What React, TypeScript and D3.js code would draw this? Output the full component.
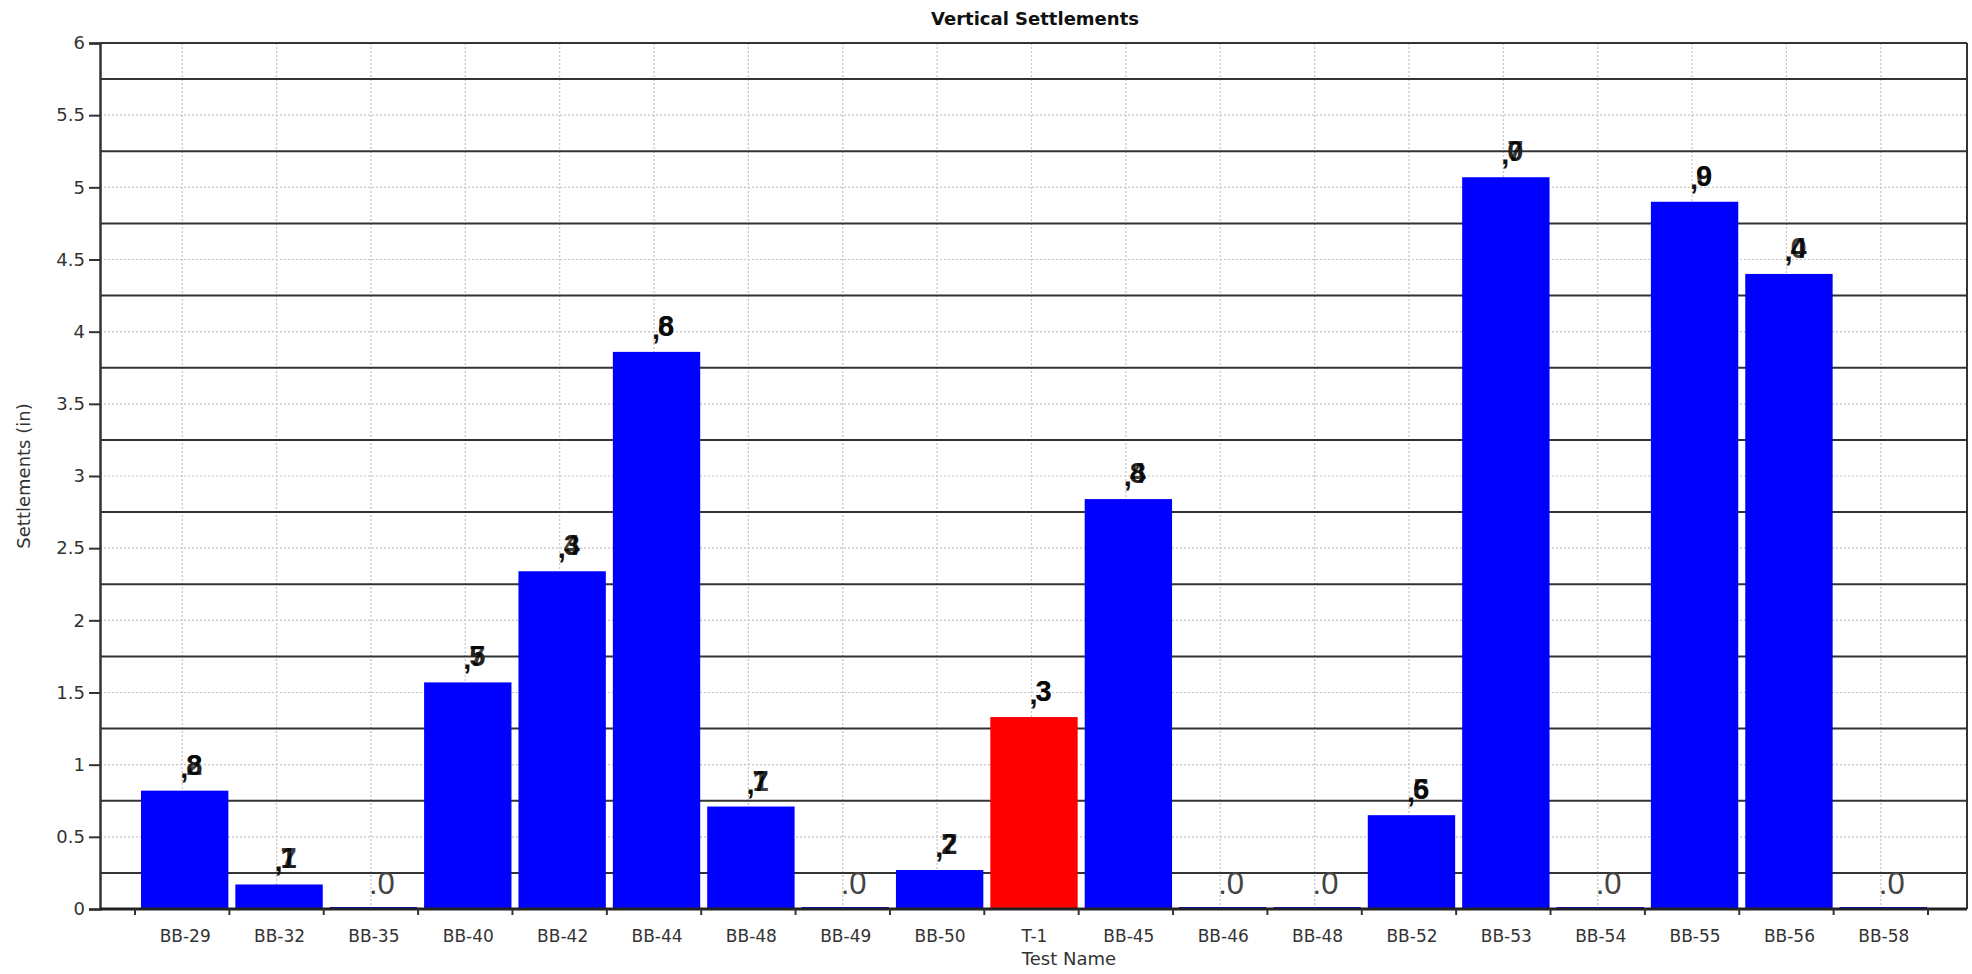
import React, { useRef, useEffect } from 'react'
import * as d3 from 'd3'

const categories = ['BB-29', 'BB-32', 'BB-35', 'BB-40', 'BB-42', 'BB-44', 'BB-48', 'BB-49', 'BB-50', 'T-1', 'BB-45', 'BB-46', 'BB-48', 'BB-52', 'BB-53', 'BB-54', 'BB-55', 'BB-56', 'BB-58']
const settlements = [0.82, 0.17, 0, 1.57, 2.34, 3.86, 0.71, 0, 0.27, 1.33, 2.84, 0, 0, 0.65, 5.07, 0, 4.9, 4.4, 0]
const highlighted = ['T-1']
const yTicks = [0, 0.5, 1, 1.5, 2, 2.5, 3, 3.5, 4, 4.5, 5, 5.5, 6]
const solidLines = [0.25, 0.75, 1.25, 1.75, 2.25, 2.75, 3.25, 3.75, 4.25, 4.75, 5.25, 5.75, 6]

const W = 1972
const H = 974
const FONT = '"DejaVu Sans", Verdana, sans-serif'
const LABEL_FONT = '"Liberation Sans", Arial, sans-serif'

export default function App() {
  const svgRef = useRef<SVGSVGElement>(null)

  useEffect(() => {
    document.body.style.margin = '0'
    if (!svgRef.current) return
    const svg = d3.select(svgRef.current)
    svg.selectAll('*').remove()

    const plot = { left: 100, right: 1967, top: 43, bottom: 909 }
    const idx = categories.map((_, i) => i)

    const x = d3.scaleBand<number>()
      .domain(idx)
      .range([135, 1928])
      .padding(0)
    const y = d3.scaleLinear().domain([0, 6]).range([plot.bottom, plot.top])

    svg.append('rect').attr('width', W).attr('height', H).attr('fill', '#fff')

    // dotted grid
    svg.append('g').selectAll('line')
      .data(yTicks.filter(t => t !== 6))
      .join('line')
      .attr('x1', plot.left).attr('x2', plot.right)
      .attr('y1', d => y(d)).attr('y2', d => y(d))
      .attr('stroke', '#c4c4c4').attr('stroke-width', 1.2).attr('stroke-dasharray', '2,2')

    svg.append('g').selectAll('line')
      .data(idx)
      .join('line')
      .attr('x1', d => x(d)! + x.bandwidth() / 2).attr('x2', d => x(d)! + x.bandwidth() / 2)
      .attr('y1', plot.top).attr('y2', plot.bottom)
      .attr('stroke', '#c4c4c4').attr('stroke-width', 1.2).attr('stroke-dasharray', '2,2')

    // solid lines
    svg.append('g').selectAll('line')
      .data(solidLines)
      .join('line')
      .attr('x1', plot.left).attr('x2', plot.right)
      .attr('y1', d => y(d)).attr('y2', d => y(d))
      .attr('stroke', '#333').attr('stroke-width', 2)

    svg.append('line')
      .attr('x1', plot.right).attr('x2', plot.right)
      .attr('y1', plot.top).attr('y2', plot.bottom)
      .attr('stroke', '#333').attr('stroke-width', 2)

    // bars
    svg.append('g').selectAll('rect')
      .data(settlements)
      .join('rect')
      .attr('x', (_, i) => x(i)! + 6)
      .attr('width', x.bandwidth() - 7)
      .attr('y', d => Math.min(y(d), plot.bottom - 2))
      .attr('height', d => Math.max(plot.bottom - y(d), 2))
      .attr('fill', (_, i) => highlighted.includes(categories[i]) ? '#ff0000' : '#0000ff')

    // axes
    const yAxis = svg.append('g')
      .attr('transform', `translate(${plot.left},0)`)
      .call(d3.axisLeft(y).tickValues(yTicks).tickSize(11).tickPadding(4).tickFormat(d => d3.format('~g')(d as number)))
    yAxis.select('.domain').attr('stroke', '#333').attr('stroke-width', 2.5)
    yAxis.selectAll('.tick line').attr('stroke', '#333').attr('stroke-width', 2)
    yAxis.selectAll('text').attr('font-family', FONT).attr('font-size', 18).attr('fill', '#333')

    svg.append('line')
      .attr('x1', plot.left).attr('x2', plot.right)
      .attr('y1', plot.bottom).attr('y2', plot.bottom)
      .attr('stroke', '#222').attr('stroke-width', 3)

    svg.append('g').selectAll('line')
      .data([...idx, categories.length])
      .join('line')
      .attr('x1', d => x.range()[0] + d * x.step()).attr('x2', d => x.range()[0] + d * x.step())
      .attr('y1', plot.bottom).attr('y2', plot.bottom + 6)
      .attr('stroke', '#333').attr('stroke-width', 2)

    svg.append('g').selectAll('text')
      .data(categories)
      .join('text')
      .attr('x', (_, i) => x(i)! + x.bandwidth() / 2 + 3)
      .attr('y', 942)
      .attr('text-anchor', 'middle')
      .attr('font-family', FONT).attr('font-size', 17).attr('fill', '#333')
      .text(d => d)

    // value labels
    const labels = svg.append('g')
    settlements.forEach((v, i) => {
      const cx = x(i)! + x.bandwidth() / 2 + 3
      if (v === 0) {
        labels.append('text')
          .attr('x', cx - 5).attr('y', 894)
          .attr('font-family', LABEL_FONT).attr('font-size', 31)
          .attr('fill', '#444')
          .text('.0')
        return
      }
      const ty = y(v) - 16
      const d1 = String(Math.floor(v * 10) % 10)
      const d2 = String(Math.round(v * 100) % 10)
      labels.append('text')
        .attr('x', cx - 5).attr('y', ty + 3)
        .attr('font-family', LABEL_FONT).attr('font-size', 29).attr('font-weight', 'bold')
        .attr('fill', '#111')
        .text(',')
      ;[d1, d2].forEach((d, k) => {
        labels.append('text')
          .attr('x', cx + 1).attr('y', ty)
          .attr('font-family', LABEL_FONT).attr('font-size', 29).attr('font-weight', 'bold')
          .attr('fill', k === 0 ? '#222' : '#000')
          .attr('fill-opacity', k === 0 ? 1 : 0.75)
          .text(d)
      })
    })

    // titles
    svg.append('text')
      .attr('x', 1035).attr('y', 25)
      .attr('text-anchor', 'middle')
      .attr('font-family', FONT).attr('font-size', 18).attr('font-weight', 'bold').attr('fill', '#111')
      .text('Vertical Settlements')

    svg.append('text')
      .attr('transform', `translate(30,${(plot.top + plot.bottom) / 2}) rotate(-90)`)
      .attr('text-anchor', 'middle')
      .attr('font-family', FONT).attr('font-size', 18).attr('fill', '#333')
      .text('Settlements (in)')

    svg.append('text')
      .attr('x', 1069).attr('y', 965)
      .attr('text-anchor', 'middle')
      .attr('font-family', FONT).attr('font-size', 18).attr('fill', '#333')
      .text('Test Name')
  }, [])

  return (
    <svg
      ref={svgRef}
      width={W}
      height={H}
      style={{ display: 'block' }}
    />
  )
}
